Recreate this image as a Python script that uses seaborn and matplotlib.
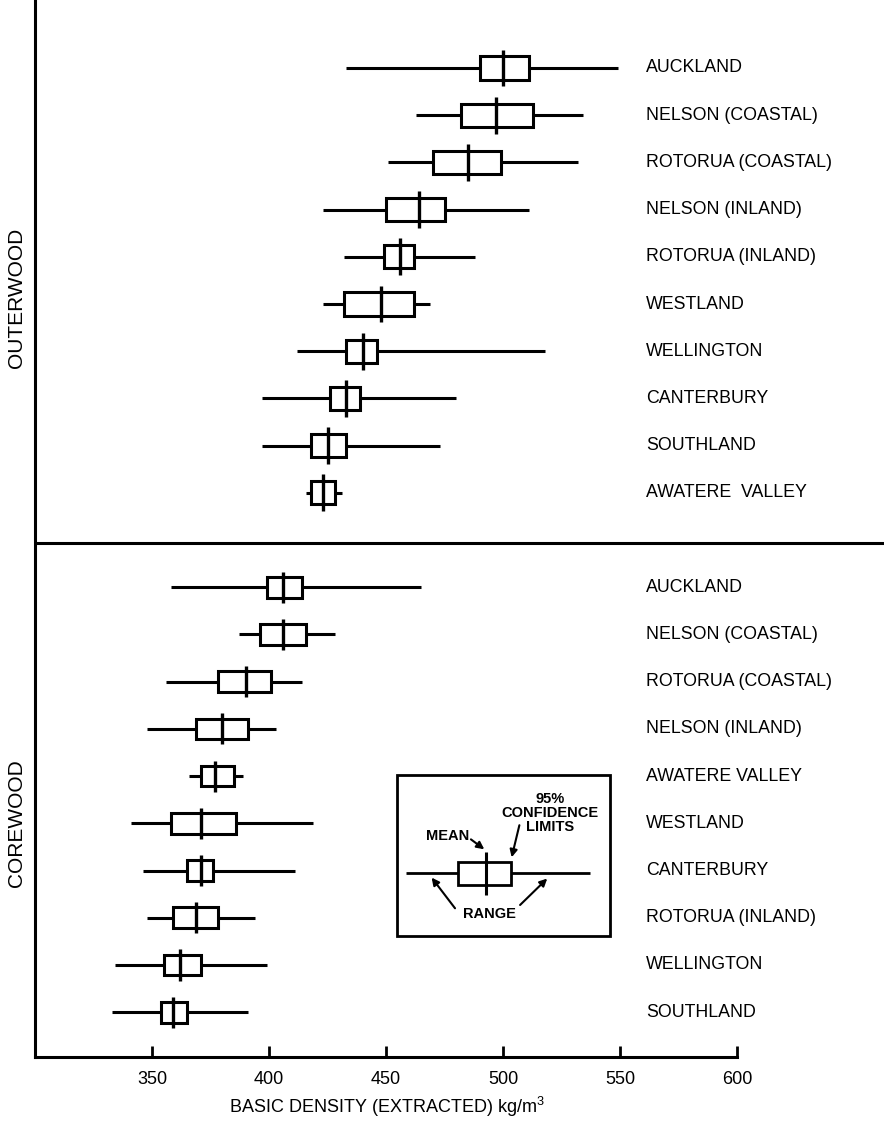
import numpy as np
import pandas as pd
import matplotlib
matplotlib.use("Agg")
import matplotlib.pyplot as plt
from matplotlib.patches import Rectangle
import seaborn as sns

# Basic density (kg/m3) by provenance: mean, 95% confidence limits and range
outer_sites = ["AUCKLAND", "NELSON (COASTAL)", "ROTORUA (COASTAL)", "NELSON (INLAND)",
               "ROTORUA (INLAND)", "WESTLAND", "WELLINGTON", "CANTERBURY",
               "SOUTHLAND", "AWATERE  VALLEY"]
outer_mean = [500, 497, 485, 464, 456, 448, 440, 433, 425, 423]
outer_ci_lo = [490, 482, 470, 450, 449, 432, 433, 426, 418, 418]
outer_ci_hi = [511, 513, 499, 475, 462, 462, 446, 439, 433, 428]
outer_min = [433, 463, 451, 423, 432, 423, 412, 397, 397, 416]
outer_max = [549, 534, 532, 511, 488, 469, 518, 480, 473, 431]

core_sites = ["AUCKLAND", "NELSON (COASTAL)", "ROTORUA (COASTAL)", "NELSON (INLAND)",
              "AWATERE VALLEY", "WESTLAND", "CANTERBURY", "ROTORUA (INLAND)",
              "WELLINGTON", "SOUTHLAND"]
core_mean = [406, 406, 390, 380, 377, 371, 371, 369, 362, 359]
core_ci_lo = [399, 396, 378, 369, 371, 358, 365, 359, 355, 354]
core_ci_hi = [414, 416, 401, 391, 385, 386, 376, 378, 371, 365]
core_min = [358, 387, 356, 348, 366, 341, 346, 348, 334, 333]
core_max = [465, 428, 414, 403, 389, 419, 411, 394, 399, 391]

x_ticks = [350, 400, 450, 500, 550, 600]

sns.set_style("white")
plt.rcParams["font.family"] = ["Liberation Sans", "DejaVu Sans"]
plt.rcParams["mathtext.fontset"] = "custom"
plt.rcParams["mathtext.rm"] = "Liberation Sans"
plt.rcParams["text.color"] = "black"
plt.rcParams["axes.labelcolor"] = "black"
plt.rcParams["axes.edgecolor"] = "black"
plt.rcParams["xtick.color"] = "black"

outer = pd.DataFrame({"site": outer_sites, "mean": outer_mean, "lo": outer_ci_lo,
                      "hi": outer_ci_hi, "min": outer_min, "max": outer_max,
                      "group": "OUTERWOOD"})
core = pd.DataFrame({"site": core_sites, "mean": core_mean, "lo": core_ci_lo,
                     "hi": core_ci_hi, "min": core_min, "max": core_max,
                     "group": "COREWOOD"})
outer["pos"] = np.arange(len(outer))
core["pos"] = len(outer) + 1 + np.arange(len(core))
df = pd.concat([outer, core], ignore_index=True)

fig = plt.figure(figsize=(8.84, 11.23), dpi=100)
ax = fig.add_axes([35 / 884, 66 / 1123, 849 / 884, 1057 / 1123])

box_h = {"OUTERWOOD": 0.49, "COREWOOD": 0.44}
tick_h = {"OUTERWOOD": 0.78, "COREWOOD": 0.66}

# range lines
ax.hlines(df["pos"], df["min"], df["max"], color="black", lw=2.2)
# confidence boxes and mean ticks
for _, r in df.iterrows():
    bh = box_h[r["group"]]
    th = tick_h[r["group"]]
    ax.add_patch(Rectangle((r["lo"], r["pos"] - bh / 2), r["hi"] - r["lo"], bh,
                           facecolor="white", edgecolor="black", lw=2.2, zorder=3))
    ax.vlines(r["mean"], r["pos"] - th / 2, r["pos"] + th / 2, color="black",
              lw=2.4, zorder=4)
    ax.text(561, r["pos"], r["site"], ha="left", va="center", fontsize=12.8,
            color="black")

# divider between outerwood and corewood
ax.axhline(len(outer) + 0.07, color="black", lw=2.2)

# key
ax.add_patch(Rectangle((454.7, 14.98), 91.0, 3.41, fill=False, edgecolor="black",
                       lw=2.0, zorder=2))
ky = 17.06
ax.hlines(ky, 458.4, 537.2, color="black", lw=2.0, zorder=3)
ax.add_patch(Rectangle((480.9, ky - 0.24), 22.6, 0.48, facecolor="white",
                       edgecolor="black", lw=2.0, zorder=3))
ax.vlines(492.7, ky - 0.45, ky + 0.45, color="black", lw=2.2, zorder=4)
key_font = dict(fontsize=10.5, fontweight="bold", ha="center", va="center",
                color="black")
ax.text(476.2, 16.26, "MEAN", **key_font)
ax.text(520.0, 15.78, "95%\nCONFIDENCE\nLIMITS", linespacing=1.0, **key_font)
ax.text(494.4, 17.92, "RANGE", **key_font)
arrow = dict(arrowstyle="-|>", color="black", lw=1.5, mutation_scale=11,
             shrinkA=0, shrinkB=0)
ax.annotate("", xy=(492.0, 16.55), xytext=(486.3, 16.34), arrowprops=arrow)
ax.annotate("", xy=(503.7, 16.72), xytext=(507.0, 16.04), arrowprops=arrow)
ax.annotate("", xy=(469.5, 17.15), xytext=(479.5, 17.80), arrowprops=arrow)
ax.annotate("", xy=(518.9, 17.17), xytext=(507.3, 17.73), arrowprops=arrow)

ax.set_xlim(300, 300 + 849 / 2.34)
ax.set_ylim(20.95, -1.44)
ax.set_yticks([])
ax.set_xticks(x_ticks)
ax.set_xticklabels([str(t) for t in x_ticks], fontsize=13)
ax.tick_params(axis="x", direction="in", length=8, width=2, pad=10, bottom=True,
               colors="black")
sns.despine(ax=ax, top=True, right=True)
ax.spines["left"].set_linewidth(2.2)
ax.spines["bottom"].set_linewidth(2.2)
ax.spines["bottom"].set_bounds(300, 600)
ax.set_xlabel("BASIC DENSITY (EXTRACTED) kg/m$^{3}$", fontsize=13, color="black")
ax.xaxis.set_label_coords((387 - 35) / 849, -38 / 1057)

fig.text(17 / 884, 1 - 298 / 1123, "OUTERWOOD", rotation=90, ha="center",
         va="center", fontsize=15, color="black")
fig.text(17 / 884, 1 - 823 / 1123, "COREWOOD", rotation=90, ha="center",
         va="center", fontsize=15, color="black")

fig.savefig("out.png", dpi=100, facecolor="white")
